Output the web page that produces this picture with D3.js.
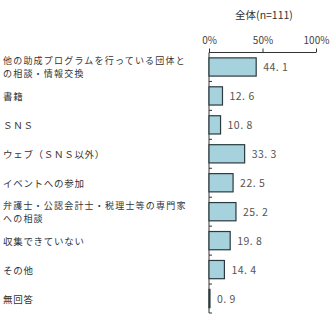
<!DOCTYPE html>
<html>
<head>
<meta charset="utf-8">
<script src="https://cdn.jsdelivr.net/npm/d3@7"></script>
<style>
  body { margin: 0; background: #fff; }
  svg { display: block; }
  text { font-family: "Noto Sans CJK JP", sans-serif; }
</style>
</head>
<body>
<svg id="chart" width="331" height="323"></svg>
<script>
// data
let categories = [
  ["他の助成プログラムを行っている団体と", "の相談・情報交換"],
  ["書籍"],
  ["ＳＮＳ"],
  ["ウェブ（ＳＮＳ以外）"],
  ["イベントへの参加"],
  ["弁護士・公認会計士・税理士等の専門家", "への相談"],
  ["収集できていない"],
  ["その他"],
  ["無回答"]
];
let values = [44.1, 12.6, 10.8, 33.3, 22.5, 25.2, 19.8, 14.4, 0.9];
let tickValues = [0, 50, 100];
let title = "全体(n=111)";

let svg = d3.select("#chart");
let plotLeft = 209, plotRight = 316, plotTop = 52.5, plotBottom = 313;

let x = d3.scaleLinear().domain([0, 100]).range([plotLeft, plotRight]);
let y = d3.scaleBand().domain(d3.range(values.length)).range([plotTop, plotBottom]).paddingInner(0.37).paddingOuter(0.185);

// title
svg.append("text")
  .attr("x", 264).attr("y", 19)
  .attr("text-anchor", "middle")
  .attr("font-size", 10.5)
  .attr("fill", "#333")
  .text(title);

// top axis
let xAxis = d3.axisTop(x).tickValues(tickValues).tickSize(4).tickFormat(d => d + "%");
let gx = svg.append("g").attr("transform", "translate(0," + plotTop + ")").call(xAxis);
gx.select(".domain").attr("stroke", "#333").attr("d", "M" + plotLeft + ",0H" + plotRight);
gx.selectAll(".tick line").attr("stroke", "#333");
gx.selectAll(".tick text").attr("font-size", 10).attr("fill", "#444").attr("y", -9)
  .attr("font-family", "\"Liberation Sans\", sans-serif");

// left axis line with small ticks at band boundaries
let bandStep = (plotBottom - plotTop) / values.length;
svg.append("line")
  .attr("x1", plotLeft).attr("x2", plotLeft).attr("y1", plotTop).attr("y2", plotBottom)
  .attr("stroke", "#333");
svg.selectAll(".ytick").data(d3.range(1, values.length + 1)).enter()
  .append("line")
  .attr("x1", plotLeft).attr("x2", plotLeft + 3)
  .attr("y1", d => plotTop + d * bandStep).attr("y2", d => plotTop + d * bandStep)
  .attr("stroke", "#333");

// bars
svg.selectAll(".bar").data(values).enter()
  .append("rect")
  .attr("x", x(0))
  .attr("y", (d, i) => y(i))
  .attr("width", d => x(d) - x(0))
  .attr("height", y.bandwidth())
  .attr("fill", "#a6d2dd")
  .attr("stroke", "#2b3a40")
  .attr("stroke-width", 1.2);

// value labels
svg.selectAll(".val").data(values).enter()
  .append("text")
  .attr("x", d => x(d) + 7)
  .attr("y", (d, i) => y(i) + y.bandwidth() / 2 + 4)
  .attr("font-size", 10.5)
  .attr("fill", "#555")
  .attr("font-family", "\"Liberation Sans\", sans-serif")
  .attr("letter-spacing", 0.5)
  .text(d => d.toFixed(1).replace(".", ". "));

// category labels
categories.forEach((lines, i) => {
  let cy = y(i) + y.bandwidth() / 2;
  let multi = lines.length > 1;
  let t = svg.append("text")
    .attr("font-size", multi ? 9 : 9.5)
    .attr("fill", "#333")
    .attr("letter-spacing", multi ? 1.2 : 0.7);
  lines.forEach((s, j) => {
    let off = !multi ? 4 : (j === 0 ? -3 : 10.2);
    t.append("tspan").attr("x", 3).attr("y", cy + off).text(s);
  });
});
</script>
</body>
</html>
